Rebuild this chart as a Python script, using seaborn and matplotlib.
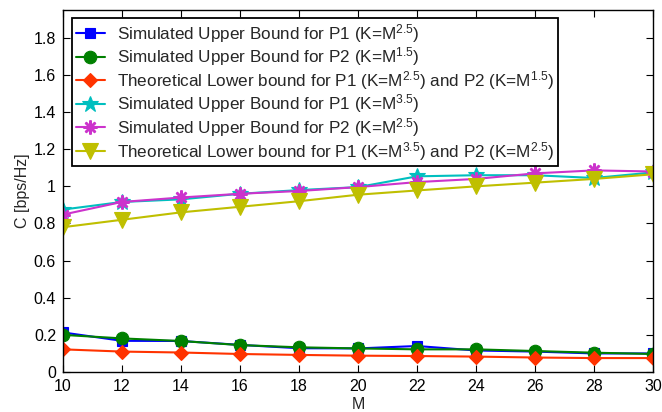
import matplotlib
matplotlib.use("Agg")
import matplotlib.pyplot as plt
import seaborn as sns
import pandas as pd

M = [10, 12, 14, 16, 18, 20, 22, 24, 26, 28, 30]
sim_p1_25 = [0.213, 0.168, 0.167, 0.146, 0.128, 0.127, 0.140, 0.116, 0.110, 0.100, 0.100]
sim_p2_15 = [0.200, 0.181, 0.167, 0.145, 0.133, 0.127, 0.122, 0.122, 0.113, 0.104, 0.097]
theo_low_1 = [0.122, 0.110, 0.105, 0.097, 0.092, 0.088, 0.086, 0.083, 0.078, 0.075, 0.075]
sim_p1_35 = [0.875, 0.916, 0.930, 0.960, 0.980, 0.996, 1.054, 1.060, 1.060, 1.045, 1.075]
sim_p2_25 = [0.848, 0.916, 0.940, 0.960, 0.975, 0.996, 1.023, 1.040, 1.070, 1.086, 1.080]
theo_low_2 = [0.780, 0.820, 0.860, 0.890, 0.920, 0.955, 0.978, 1.000, 1.020, 1.040, 1.065]

labels = [
    r"Simulated Upper Bound for P1 (K=M$^{2.5}$)",
    r"Simulated Upper Bound for P2 (K=M$^{1.5}$)",
    r"Theoretical Lower bound for P1 (K=M$^{2.5}$) and P2 (K=M$^{1.5}$)",
    r"Simulated Upper Bound for P1 (K=M$^{3.5}$)",
    r"Simulated Upper Bound for P2 (K=M$^{2.5}$)",
    r"Theoretical Lower bound for P1 (K=M$^{3.5}$) and P2 (K=M$^{2.5}$)",
]
series = [sim_p1_25, sim_p2_15, theo_low_1, sim_p1_35, sim_p2_25, theo_low_2]
colors = ["#0000FF", "#008000", "#FF3300", "#00BFBF", "#CC33CC", "#BFBF00"]
markers = ["s", "o", "D", "*", (8, 2, 0), "v"]
msizes = [7, 9, 7, 12, 10, 11]

yticks = [0, 0.2, 0.4, 0.6, 0.8, 1.0, 1.2, 1.4, 1.6, 1.8]
ytick_labels = ["0", "0.2", "0.4", "0.6", "0.8", "1", "1.2", "1.4", "1.6", "1.8"]
xticks = M

sns.set_theme(style="ticks")
plt.rcParams["font.family"] = ["Liberation Sans", "DejaVu Sans"]
plt.rcParams["mathtext.fontset"] = "custom"
plt.rcParams["mathtext.rm"] = "Liberation Sans"
plt.rcParams["mathtext.default"] = "regular"

fig = plt.figure(figsize=(6.62, 4.12), dpi=100)
ax = fig.add_axes([63 / 662, 40 / 412, 590 / 662, 362 / 412])

for ys, lab, c, mk, ms in zip(series, labels, colors, markers, msizes):
    df = pd.DataFrame({"M": M, "C": ys})
    sns.lineplot(data=df, x="M", y="C", ax=ax, color=c, marker=mk,
                 markersize=ms, markeredgecolor=c, markerfacecolor=c,
                 markeredgewidth=1.8 if mk == (8, 2, 0) else 0.8,
                 linewidth=1.5, label=lab)

ax.set_xlim(10, 30)
ax.set_ylim(0, 1.95)
ax.set_xticks(xticks)
ax.set_xticklabels([str(v) for v in xticks])
ax.set_yticks(yticks)
ax.set_yticklabels(ytick_labels)
ax.tick_params(direction="in", length=5, width=0.8, top=True, right=True,
               labelsize=11.5, colors="black", pad=5)
for s in ax.spines.values():
    s.set_visible(True)
    s.set_color("black")
    s.set_linewidth(1.0)
ax.set_xlabel("M", fontsize=11.5, labelpad=2)
ax.set_ylabel("C [bps/Hz]", fontsize=11.5, labelpad=3)

leg = ax.legend(loc="upper left", bbox_to_anchor=(0.015, 0.978), borderaxespad=0,
                fontsize=12.3, frameon=True, fancybox=False, framealpha=1,
                edgecolor="black", handlelength=1.7, labelspacing=0.04,
                borderpad=0.22, handletextpad=0.7)
leg.get_frame().set_linewidth(1.3)

fig.savefig("out.png", dpi=100)
